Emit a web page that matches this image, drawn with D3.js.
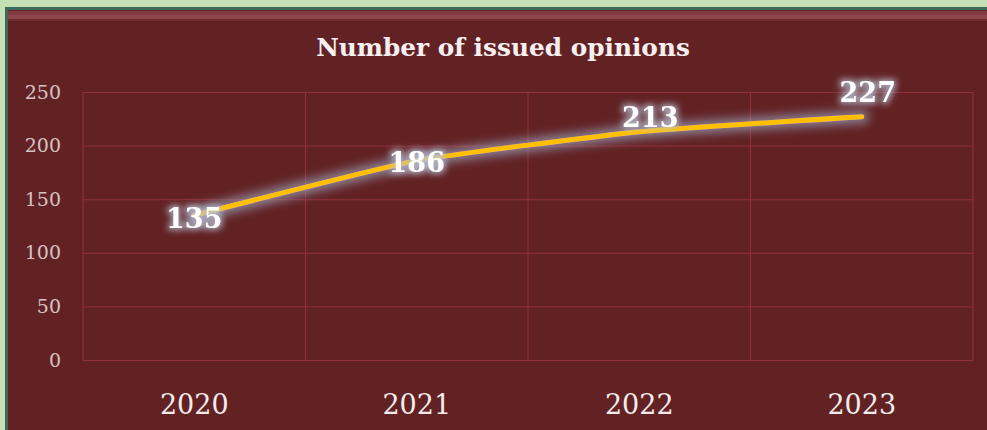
<!DOCTYPE html>
<html>
<head>
<meta charset="utf-8">
<script src="https://cdn.jsdelivr.net/npm/d3@7"></script>
<style>
  html, body { margin: 0; padding: 0; background: #c5e0b4; }
  svg { display: block; }
</style>
</head>
<body>
<div id="chart-area"></div>
<script>
const W = 987, H = 430
const MARGIN = { LEFT: 83, RIGHT: 14, TOP: 92, BOTTOM: 70 }

const years = ["2020", "2021", "2022", "2023"]
const opinions = [135, 186, 213, 227]
const yTicks = [0, 50, 100, 150, 200, 250]
const title = "Number of issued opinions"

// label nudges (px) so the numbers sit like in the original
const labelDX = [0, 0, 11, 6]
const labelDY = [3, 2, -14, -24]

const svg = d3.select("#chart-area").append("svg")
  .attr("width", W)
  .attr("height", H)

const defs = svg.append("defs")

// glow behind the data labels
const tGlow = defs.append("filter").attr("id", "textGlow")
  .attr("x", "-30%").attr("y", "-40%").attr("width", "160%").attr("height", "180%")
tGlow.append("feMorphology").attr("in", "SourceAlpha").attr("operator", "dilate").attr("radius", 1.5).attr("result", "d")
tGlow.append("feGaussianBlur").attr("in", "d").attr("stdDeviation", 3).attr("result", "b")
tGlow.append("feFlood").attr("flood-color", "#b8c2d6").attr("flood-opacity", 0.8)
tGlow.append("feComposite").attr("in2", "b").attr("operator", "in").attr("result", "g")
const tm = tGlow.append("feMerge")
tm.append("feMergeNode").attr("in", "g")
tm.append("feMergeNode").attr("in", "SourceGraphic")

// glow behind the line
const lGlow = defs.append("filter").attr("id", "lineGlow")
  .attr("filterUnits", "userSpaceOnUse")
  .attr("x", -50).attr("y", -50).attr("width", 1000).attr("height", 300)
lGlow.append("feMorphology").attr("in", "SourceAlpha").attr("operator", "dilate").attr("radius", 4).attr("result", "d")
lGlow.append("feGaussianBlur").attr("in", "d").attr("stdDeviation", 5).attr("result", "b")
lGlow.append("feFlood").attr("flood-color", "#9aa4bc").attr("flood-opacity", 0.7)
lGlow.append("feComposite").attr("in2", "b").attr("operator", "in").attr("result", "g")
const lm = lGlow.append("feMerge")
lm.append("feMergeNode").attr("in", "g")
lm.append("feMergeNode").attr("in", "SourceGraphic")

// panel + frame
svg.append("rect").attr("x", 5).attr("y", 7).attr("width", W).attr("height", H)
  .attr("fill", "#3d6a58")
svg.append("rect").attr("x", 8).attr("y", 10).attr("width", W).attr("height", H)
  .attr("fill", "#622224")
svg.append("rect").attr("x", 8).attr("y", 11).attr("width", W).attr("height", 4)
  .attr("fill", "#8a4248").attr("opacity", 0.8)
svg.append("rect").attr("x", 8).attr("y", 15).attr("width", W).attr("height", 4)
  .attr("fill", "#a0565c").attr("opacity", 0.7)
svg.append("rect").attr("x", 8).attr("y", 19).attr("width", W).attr("height", 2)
  .attr("fill", "#7a3238").attr("opacity", 0.6)

const innerW = W - MARGIN.LEFT - MARGIN.RIGHT
const innerH = H - MARGIN.TOP - MARGIN.BOTTOM
const g = svg.append("g").attr("transform", `translate(${MARGIN.LEFT},${MARGIN.TOP})`)

const x = d3.scaleBand().domain(years).range([0, innerW]).padding(0)
const y = d3.scaleLinear().domain([0, 250]).range([innerH, 0])

// horizontal grid
g.append("g")
  .call(d3.axisLeft(y).tickValues(yTicks).tickSize(-innerW).tickFormat(""))
  .call(a => a.select(".domain").remove())
  .selectAll("line").attr("stroke", "#93303a").attr("stroke-width", 1)

// vertical grid at category boundaries
const bounds = years.map(d => x(d)).concat([innerW])
g.selectAll(".vgrid").data(bounds).join("line")
  .attr("x1", d => d).attr("x2", d => d)
  .attr("y1", 0).attr("y2", innerH)
  .attr("stroke", "#93303a").attr("stroke-width", 1)

// y tick labels
g.selectAll(".ylab").data(yTicks).join("text")
  .attr("x", -22).attr("y", d => y(d))
  .attr("dy", "0.35em")
  .attr("text-anchor", "end")
  .attr("font-family", "DejaVu Serif, serif")
  .attr("font-size", 19)
  .attr("fill", "#d6c2c2")
  .text(d => d)

// x labels
g.selectAll(".xlab").data(years).join("text")
  .attr("x", d => x(d) + x.bandwidth() / 2)
  .attr("y", innerH + 54)
  .attr("text-anchor", "middle")
  .attr("font-family", "DejaVu Serif, serif")
  .attr("font-size", 27)
  .attr("fill", "#f4ecec")
  .text(d => d)

// title
const t = svg.append("text")
  .attr("x", 503).attr("y", 56)
  .attr("text-anchor", "middle")
  .attr("font-family", "DejaVu Serif, serif")
  .attr("font-weight", "bold")
  .attr("font-size", 22)
  .attr("fill", "#f8f0f0")
  .text(title)
const tw = t.node().getComputedTextLength()
t.attr("font-size", 22 * 374 / tw)

// line
const line = d3.line()
  .x((d, i) => x(years[i]) + x.bandwidth() / 2)
  .y(d => y(d))
  .curve(d3.curveCardinal.tension(0.6))

g.append("path")
  .datum(opinions)
  .attr("d", line)
  .attr("fill", "none")
  .attr("stroke", "#ffc000")
  .attr("stroke-width", 5)
  .attr("stroke-linecap", "round")
  .attr("filter", "url(#lineGlow)")

// data labels
g.selectAll(".dlab").data(opinions).join("text")
  .attr("x", (d, i) => x(years[i]) + x.bandwidth() / 2 + labelDX[i])
  .attr("y", (d, i) => y(d) + labelDY[i])
  .attr("dy", "0.36em")
  .attr("text-anchor", "middle")
  .attr("font-family", "DejaVu Serif, serif")
  .attr("font-weight", "bold")
  .attr("font-size", 27)
  .attr("fill", "#ffffff")
  .attr("filter", "url(#textGlow)")
  .text(d => d)
</script>
</body>
</html>
